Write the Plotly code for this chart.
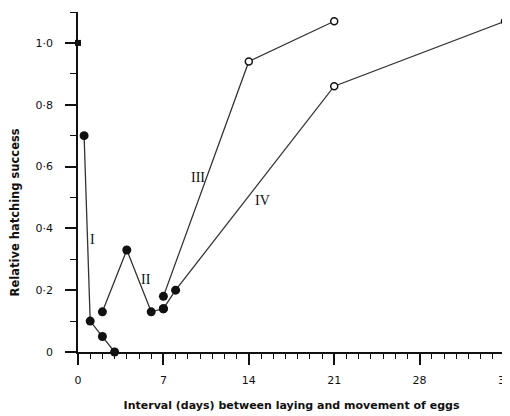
import plotly.graph_objects as go

# Data (days, relative hatching success)
start_x = [0]
start_y = [1.0]

s1_x = [0.5, 1, 2, 3]
s1_y = [0.70, 0.10, 0.05, 0.0]

s2_x = [2, 4, 6, 7]
s2_y = [0.13, 0.33, 0.13, 0.14]

s3_x = [7, 14, 21]
s3_y = [0.18, 0.94, 1.07]
s3_open = [False, True, True]

s4_x = [7, 8, 21, 35]
s4_y = [0.14, 0.20, 0.86, 1.07]
s4_open = [False, False, True, True]

labels = ["I", "II", "III", "IV"]
label_x = [1.2, 5.6, 9.8, 15.1]
label_y = [0.365, 0.235, 0.565, 0.49]

x_ticks = [0, 7, 14, 21, 28, 35]
y_ticks = [0, 0.2, 0.4, 0.6, 0.8, 1.0]
y_tick_text = ["0", "0·2", "0·4", "0·6", "0·8", "1·0"]

x_title = "Interval (days) between laying and movement of eggs"
y_title = "Relative hatching success"

INK = "#111111"
LINE = "#333333"

fig = go.Figure()

# lines
for xs, ys in [(s1_x, s1_y), (s2_x, s2_y), (s3_x, s3_y), (s4_x, s4_y)]:
    fig.add_trace(go.Scatter(x=xs, y=ys, mode="lines",
                             line=dict(color=LINE, width=1.3),
                             hoverinfo="skip", showlegend=False))

# filled markers
fx = s1_x + s2_x + [x for x, o in zip(s3_x, s3_open) if not o] + [x for x, o in zip(s4_x, s4_open) if not o]
fy = s1_y + s2_y + [y for y, o in zip(s3_y, s3_open) if not o] + [y for y, o in zip(s4_y, s4_open) if not o]
fig.add_trace(go.Scatter(x=fx, y=fy, mode="markers",
                         marker=dict(symbol="circle", size=9, color=INK, line=dict(width=0)),
                         cliponaxis=False, showlegend=False))

# open markers
ox = [x for x, o in zip(s3_x, s3_open) if o] + [x for x, o in zip(s4_x, s4_open) if o]
oy = [y for y, o in zip(s3_y, s3_open) if o] + [y for y, o in zip(s4_y, s4_open) if o]
fig.add_trace(go.Scatter(x=ox, y=oy, mode="markers",
                         marker=dict(symbol="circle", size=7, color="white",
                                     line=dict(color=INK, width=1.5)),
                         cliponaxis=False, showlegend=False))

# starting point (square)
fig.add_trace(go.Scatter(x=start_x, y=start_y, mode="markers",
                         marker=dict(symbol="square", size=6, color=INK),
                         cliponaxis=False, showlegend=False))

for t, xx, yy in zip(labels, label_x, label_y):
    fig.add_annotation(x=xx, y=yy, text=t, showarrow=False,
                       font=dict(family="Liberation Serif", size=14, color=INK))

# y-axis title (placed as annotation to match the original offset)
fig.add_annotation(xref="paper", yref="paper", x=-0.148, y=0.41, text=y_title,
                   textangle=-90, showarrow=False, xanchor="center", yanchor="middle",
                   font=dict(family="DejaVu Sans", size=11.5, weight="bold", color=INK))

# small upward hook at the right end of the x axis
fig.add_shape(type="line", xref="x", yref="paper", x0=35, x1=35, y0=0, y1=0.022,
              line=dict(color=INK, width=1.5))

fig.update_layout(
    width=510, height=416,
    margin=dict(l=70, r=13, t=4, b=72, autoexpand=False),
    paper_bgcolor="white", plot_bgcolor="white",
    font=dict(family="DejaVu Sans", size=11, color=INK),
    xaxis=dict(range=[0, 35], showgrid=False, zeroline=False, automargin=False,
               showline=True, linecolor=INK, linewidth=1.5,
               ticks="outside", tickvals=x_ticks, ticklen=11, tickwidth=1.5,
               tickcolor=INK, ticklabelstandoff=6,
               minor=dict(dtick=1, ticks="outside", ticklen=5, tickwidth=1.3, tickcolor=INK),
               title=dict(text=x_title, font=dict(size=11, weight="bold"), standoff=15)),
    yaxis=dict(range=[0, 1.1], showgrid=False, zeroline=False, automargin=False,
               showline=True, linecolor=INK, linewidth=1.5,
               ticks="outside", tickvals=y_ticks, ticktext=y_tick_text,
               ticklen=11, tickwidth=1.5, tickcolor=INK, ticklabelstandoff=10,
               minor=dict(dtick=0.1, ticks="outside", ticklen=6, tickwidth=1.3, tickcolor=INK)),
)

fig.write_html("out.html")
